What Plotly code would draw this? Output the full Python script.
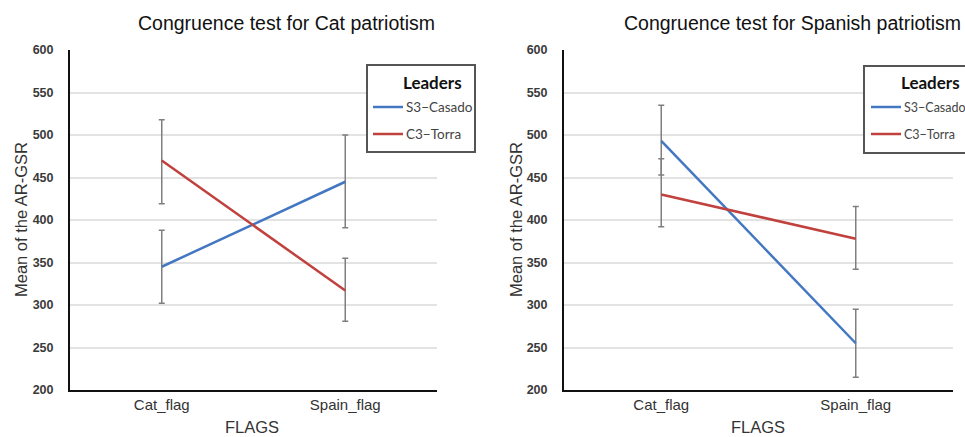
import plotly.graph_objects as go

OFF = 0
W, H = 965, 437

def px(x):
    return (x - OFF) / W

def py(y):
    return 1 - (y - OFF) / H

categories = ["Cat_flag", "Spain_flag"]
leaders = ["S3\u2212Casado", "C3\u2212Torra"]
colors = ["#4477C2", "#C0413E"]

# Panel 1: Cat patriotism
cat_casado = [345, 445]
cat_casado_lo = [302, 391]
cat_casado_hi = [388, 500]
cat_torra = [470, 317]
cat_torra_lo = [419, 281]
cat_torra_hi = [518, 355]

# Panel 2: Spanish patriotism
sp_casado = [493, 255]
sp_casado_lo = [453, 215]
sp_casado_hi = [535, 295]
sp_torra = [430, 378]
sp_torra_lo = [392, 342]
sp_torra_hi = [472, 416]

titles = ["Congruence test for Cat patriotism", "Congruence test for Spanish patriotism"]
y_title = "Mean of the AR-GSR"
x_title = "FLAGS"
legend_title = "Leaders"

fig = go.Figure()

def add_series(xa, ya, means, lo, hi, color):
    fig.add_trace(go.Scatter(
        x=categories, y=means, mode="lines", xaxis=xa, yaxis=ya,
        line=dict(color=color, width=2.5), showlegend=False,
        error_y=dict(type="data", symmetric=False,
                     array=[h - m for h, m in zip(hi, means)],
                     arrayminus=[m - l for m, l in zip(means, lo)],
                     color="#7f7f7f", thickness=1.5, width=3),
    ))

add_series("x", "y", cat_casado, cat_casado_lo, cat_casado_hi, colors[0])
add_series("x", "y", cat_torra, cat_torra_lo, cat_torra_hi, colors[1])
add_series("x2", "y2", sp_casado, sp_casado_lo, sp_casado_hi, colors[0])
add_series("x2", "y2", sp_torra, sp_torra_lo, sp_torra_hi, colors[1])

ydom = [py(390), py(50)]
axis_common_x = dict(type="category", range=[-0.5, 1.5], showline=True, linecolor="#111",
                     linewidth=2, showgrid=False, zeroline=False, ticks="", automargin=False,
                     tickfont=dict(family="Liberation Sans, Arial", size=15, color="#333"))
axis_common_y = dict(range=[200, 600], dtick=50, showline=True, linecolor="#111", linewidth=2,
                     showgrid=True, gridcolor="#e3e3e3", gridwidth=1.5, zeroline=False, ticks="",
                     ticklabelstandoff=12, automargin=False,
                     tickfont=dict(family="Liberation Sans, Arial", size=12.5, color="#3a3a3a",
                                   weight="bold"))

fig.update_layout(
    template="none",
    width=W, height=H, margin=dict(l=0, r=0, t=0, b=0, pad=0, autoexpand=False),
    paper_bgcolor="white", plot_bgcolor="white",
    xaxis=dict(domain=[px(70), px(437)], anchor="y", **axis_common_x),
    yaxis=dict(domain=ydom, anchor="x", **axis_common_y),
    xaxis2=dict(domain=[px(564), px(953)], anchor="y2", **axis_common_x),
    yaxis2=dict(domain=ydom, anchor="x2", **axis_common_y),
    showlegend=False,
)

font_t = dict(family="Liberation Sans, Arial", size=19.5, color="#111")
font_ax = dict(family="Liberation Sans, Arial", size=16.5, color="#333")
ann = []
shapes = []

panels = [
    dict(title_x=286, yt_x=21, xt_x=252, leg=(367, 475, 65, 152), line_x=(373, 403), txt_x=404,
         lt_x=464, fs=13.5),
    dict(title_x=792, yt_x=516, xt_x=758, leg=(864, 990, 66, 153), line_x=(871, 901), txt_x=902,
         lt_x=962, fs=12.5),
]
for i, p in enumerate(panels):
    ann.append(dict(text=titles[i], x=px(p["title_x"]), y=py(23), xref="paper", yref="paper",
                    showarrow=False, font=font_t, xanchor="center", yanchor="middle"))
    ann.append(dict(text=y_title, x=px(p["yt_x"]), y=py(220), xref="paper", yref="paper",
                    showarrow=False, font=font_ax, textangle=-90, xanchor="center", yanchor="middle"))
    ann.append(dict(text=x_title, x=px(p["xt_x"]), y=py(427), xref="paper", yref="paper",
                    showarrow=False, font=font_ax, xanchor="center", yanchor="middle"))
    x0, x1, y0, y1 = p["leg"]
    shapes.append(dict(type="rect", xref="paper", yref="paper", x0=px(x0), x1=px(x1),
                       y0=py(y1), y1=py(y0), line=dict(color="#555", width=2),
                       fillcolor="white", layer="above"))
    ann.append(dict(text="<b>" + legend_title + "</b>", x=px(p["lt_x"]), y=py(83),
                    xref="paper", yref="paper", showarrow=False, xanchor="right", yanchor="middle",
                    font=dict(family="Lato, Open Sans", size=17, color="#111")))
    for j, (name, col) in enumerate(zip(leaders, colors)):
        ly = 107 + j * 27
        shapes.append(dict(type="line", xref="paper", yref="paper", x0=px(p["line_x"][0]),
                           x1=px(p["line_x"][1]), y0=py(ly), y1=py(ly),
                           line=dict(color=col, width=2.5), layer="above"))
        ann.append(dict(text=name, x=px(p["txt_x"]), y=py(ly), xref="paper", yref="paper",
                        showarrow=False, xanchor="left", yanchor="middle",
                        font=dict(family="Lato, Open Sans", size=p["fs"], color="#444")))

fig.update_layout(annotations=ann, shapes=shapes)
fig.write_html(
    "out.html",
    config={"displayModeBar": False},
    post_script="document.body.style.margin='0';document.body.style.overflow='hidden';",
)
